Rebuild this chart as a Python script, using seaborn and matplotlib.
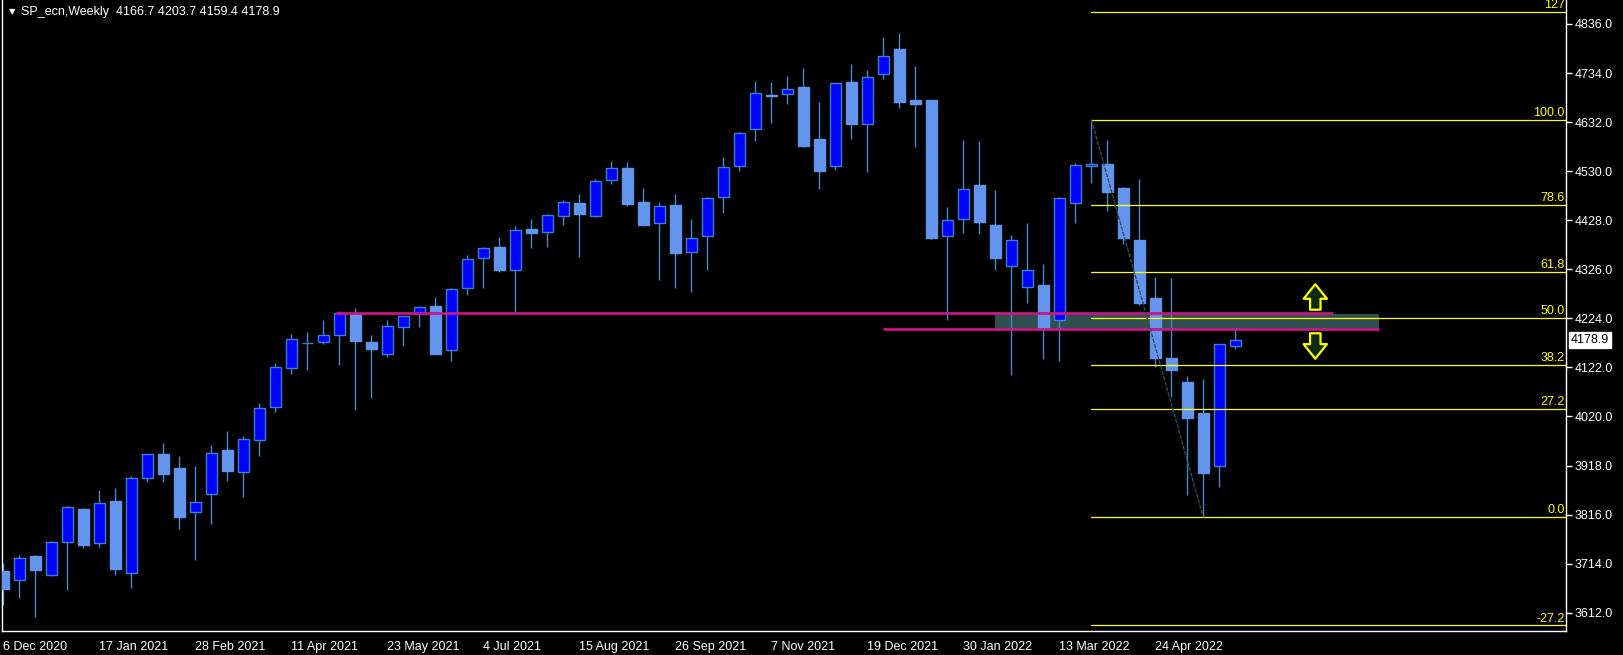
import numpy as np
import pandas as pd
import matplotlib
matplotlib.use("Agg")
import matplotlib.pyplot as plt
import matplotlib.transforms as mtransforms
import seaborn as sns

# Datos semanales (SP_ecn, Weekly)
opens = [3698.7, 3680.6, 3729.9, 3691.0, 3759.6, 3827.6, 3757.5, 3844.2, 3695.1, 3892.7,
         3941.9, 3912.8, 3822.0, 3859.4, 3950.3, 3905.1, 3971.7, 4040.3, 4121.4, 4173.4,
         4175.4, 4190.0, 4233.0, 4174.2, 4150.5, 4206.6, 4232.4, 4249.7, 4157.6, 4286.5,
         4348.8, 4372.3, 4325.1, 4409.8, 4404.2, 4436.2, 4463.2, 4437.4, 4511.0, 4536.6,
         4465.3, 4422.9, 4459.7, 4361.3, 4394.6, 4475.7, 4540.1, 4617.1, 4687.5, 4689.8,
         4705.0, 4596.9, 4541.4, 4715.4, 4628.7, 4731.4, 4784.0, 4678.0, 4678.0, 4395.8,
         4431.2, 4501.2, 4418.1, 4333.5, 4289.8, 4293.3, 4221.2, 4464.4, 4540.1, 4544.9,
         4495.0, 4386.9, 4266.3, 4141.5, 4091.6, 4027.2, 3916.4, 4166.7]
highs = [3714.7, 3731.3, 3731.0, 3760.4, 3833.2, 3829.0, 3867.1, 3870.6, 3895.6, 3942.0,
         3964.8, 3937.8, 3917.0, 3960.7, 3989.8, 3979.4, 4048.0, 4131.2, 4191.4, 4195.6,
         4220.6, 4238.6, 4245.5, 4189.4, 4220.6, 4229.0, 4249.7, 4268.4, 4287.1, 4355.7,
         4372.3, 4393.1, 4416.0, 4430.6, 4441.0, 4470.1, 4482.5, 4513.7, 4551.1, 4549.1,
         4495.0, 4465.9, 4482.5, 4430.6, 4476.3, 4559.5, 4610.8, 4717.5, 4715.4, 4727.9,
         4743.9, 4673.8, 4713.5, 4752.8, 4740.4, 4809.0, 4817.3, 4748.7, 4679.0, 4455.5,
         4594.8, 4592.7, 4490.9, 4397.3, 4422.2, 4337.0, 4475.7, 4546.4, 4637.3, 4594.8,
         4496.5, 4513.7, 4310.0, 4307.9, 4104.1, 4097.9, 4171.5, 4203.7]
lows = [3628.0, 3643.2, 3603.7, 3689.0, 3659.2, 3747.1, 3749.2, 3690.0, 3664.0, 3884.3,
        3884.3, 3786.6, 3722.2, 3797.0, 3885.8, 3852.5, 3938.4, 4029.9, 4108.9, 4116.6,
        4171.3, 4127.0, 4033.4, 4058.4, 4144.2, 4167.1, 4206.6, 4149.5, 4135.9, 4272.5,
        4287.7, 4320.4, 4235.1, 4370.9, 4373.0, 4418.7, 4352.2, 4435.0, 4504.0, 4458.2,
        4416.6, 4304.3, 4288.0, 4278.8, 4325.1, 4443.7, 4531.0, 4593.4, 4630.8, 4670.3,
        4581.0, 4493.6, 4533.1, 4597.5, 4528.9, 4722.3, 4662.0, 4580.9, 4389.6, 4220.6,
        4401.4, 4399.4, 4324.5, 4106.2, 4256.5, 4139.5, 4135.9, 4422.2, 4506.0, 4447.8,
        4379.2, 4252.4, 4123.5, 4061.1, 3857.3, 3810.3, 3873.9, 4159.4]
closes = [3661.3, 3725.1, 3700.8, 3758.4, 3831.1, 3752.7, 3839.4, 3702.8, 3891.4, 3941.3,
          3901.0, 3811.0, 3841.5, 3943.4, 3906.6, 3972.5, 4037.0, 4122.2, 4180.4, 4173.4,
          4188.7, 4234.5, 4176.9, 4160.9, 4207.5, 4228.3, 4247.0, 4150.5, 4284.4, 4346.8,
          4369.6, 4324.5, 4407.1, 4402.1, 4438.2, 4465.3, 4441.6, 4508.9, 4536.0, 4462.4,
          4418.7, 4457.0, 4360.5, 4390.4, 4473.6, 4538.1, 4608.7, 4691.9, 4685.5, 4700.2,
          4583.0, 4531.0, 4712.7, 4628.7, 4725.2, 4768.8, 4674.4, 4670.3, 4391.7, 4427.9,
          4492.3, 4424.3, 4349.5, 4386.3, 4323.9, 4204.5, 4473.6, 4542.2, 4544.3, 4487.3,
          4391.7, 4256.5, 4142.2, 4117.2, 4017.4, 3903.1, 4170.7, 4178.9]
semanas = pd.date_range("2020-12-06", periods=len(opens), freq="W-SUN")

# Fibonacci entre el maximo (barra 68) y el minimo (barra 75)
fib_alto_idx = 68
fib_bajo_idx = 75
fib_niveles = [1.27, 1.0, 0.786, 0.618, 0.5, 0.382, 0.272, 0.0, -0.272]
fib_textos = ["127", "100.0", "78.6", "61,8", "50.0", "38.2", "27.2", "0.0", "-27.2"]

# Lineas horizontales y zona marcada a mano
lineas_precio = [4234.5, 4201.0]
lineas_inicio = [20.8, 55.0]
lineas_fin = [83.1, 86.0]
zona_inicio, zona_fin = 62.0, 86.0
zona_bajo, zona_alto = 4201.0, 4233.0
flecha_x = 82.0
# (cola, punta) de cada flecha
flecha_arriba = (4242.0, 4295.0)
flecha_abajo = (4193.0, 4140.0)

sns.set_theme(style="dark", rc={"axes.facecolor": "black", "figure.facecolor": "black",
                                "axes.grid": False})
plt.rcParams["font.family"] = ["Liberation Sans", "DejaVu Sans"]

fig = plt.figure(figsize=(16.23, 6.55), dpi=100)
ax = fig.add_axes([2 / 1623, 24 / 655, 1564 / 1623, 631 / 655])
ax.set_facecolor("black")

x = np.arange(len(opens))
o = np.array(opens); h = np.array(highs); l = np.array(lows); c = np.array(closes)
sube = c >= o

# Zona rectangular (debajo de las velas)
ax.fill_between([zona_inicio, zona_fin], zona_bajo, zona_alto, color="#2F4F4F", lw=0, zorder=1)

# Mechas y cuerpos
ax.vlines(x, l, h, color="#4A86C8", lw=1, zorder=2)
ax.bar(x[sube], (c - o)[sube], bottom=o[sube], width=0.66, color="#0000FF",
       edgecolor="#3A7FD5", linewidth=1, zorder=3)
ax.bar(x[~sube], (o - c)[~sube], bottom=c[~sube], width=0.66, color="#6495ED",
       edgecolor="#6495ED", linewidth=1, zorder=3)

# Lineas magenta
for p, a, b in zip(lineas_precio, lineas_inicio, lineas_fin):
    ax.hlines(p, a, b, color="#C71585", lw=2, zorder=5)

# Niveles de Fibonacci
alto = highs[fib_alto_idx]
bajo = lows[fib_bajo_idx]
trans = mtransforms.blended_transform_factory(ax.transAxes, ax.transData)
for nivel, texto in zip(fib_niveles, fib_textos):
    precio = bajo + nivel * (alto - bajo)
    ax.plot([fib_alto_idx, 200], [precio, precio], color="#FFFF00", lw=0.9, zorder=6)
    ax.text(0.9993, precio + 2, texto, transform=trans, ha="right", va="bottom",
            color="#FFFF00", fontsize=9, zorder=7, clip_on=True)
ax.plot([fib_alto_idx, fib_bajo_idx], [alto, bajo], color="#2F4F4F", lw=1,
        ls=(0, (3, 1)), zorder=6)

# Flechas
for cola, punta in [flecha_arriba, flecha_abajo]:
    ax.annotate("", xy=(flecha_x, punta), xytext=(flecha_x, cola),
                arrowprops=dict(arrowstyle="simple,head_length=0.5,head_width=0.8,tail_width=0.36",
                                mutation_scale=21, fc="#0B2A0B", ec="#FFFF00", lw=1.6,
                                shrinkA=0, shrinkB=0), zorder=7)

# Ejes
ax.set_xlim(-0.08, 97.67)
ax.set_ylim(3573.9, 4885.9)
for lado in ["left", "bottom", "right"]:
    ax.spines[lado].set_color("white")
    ax.spines[lado].set_linewidth(1)
ax.spines["top"].set_visible(False)

ax.yaxis.tick_right()
yt = np.arange(3612, 4837, 102)
ax.set_yticks(yt)
ax.set_yticklabels([f"{v:.1f}" for v in yt])
ticks_x = x[::6]
ax.set_xticks(ticks_x)
ax.set_xticklabels([f"{d.day} {d:%b %Y}" for d in semanas[::6]], ha="left")
ax.tick_params(axis="both", colors="white", labelcolor="white", labelsize=9,
               length=4, width=1, direction="out", pad=2)
ax.tick_params(axis="x", pad=3, left=False)
ax.tick_params(axis="y", left=False, right=True)

# Precio actual
ax.annotate(f"{closes[-1]:.1f}", xy=(1.0, closes[-1]), xycoords=trans,
            xytext=(5, 0), textcoords="offset pixels", ha="left", va="center",
            color="black", fontsize=9,
            bbox=dict(boxstyle="square,pad=0.15", fc="white", ec="white"),
            annotation_clip=False)

# Titulo
fig.text(9 / 1623, 1 - 12 / 655, "\u25bc", color="white", fontsize=6,
         ha="left", va="center", family="DejaVu Sans")
fig.text(21 / 1623, 1 - 12 / 655,
         f"SP_ecn,Weekly  {opens[-1]:.1f} {highs[-1]:.1f} {lows[-1]:.1f} {closes[-1]:.1f}",
         color="white", fontsize=9, ha="left", va="center")

fig.savefig("out.png", dpi=100, facecolor="black")
plt.close(fig)
